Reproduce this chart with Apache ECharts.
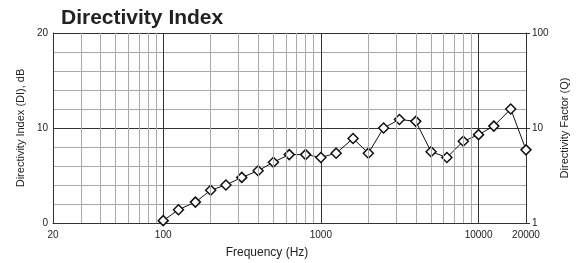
<!DOCTYPE html>
<html>
<head>
<meta charset="utf-8">
<script src="https://cdn.jsdelivr.net/npm/echarts@6/dist/echarts.min.js"></script>
<style>
  html, body { margin: 0; padding: 0; background: #fff; }
  #chart { width: 576px; height: 263px; }
</style>
</head>
<body>
<div id="chart"></div>
<script>
// 1/3 octave bands, Hz
var freqs = [100, 125, 160, 200, 250, 315, 400, 500, 630, 800, 1000, 1250,
  1600, 2000, 2500, 3150, 4000, 5000, 6300, 8000, 10000, 12500, 16000, 20000];
// directivity index, dB
var di = [0.25, 1.4, 2.2, 3.45, 4.0, 4.8, 5.5, 6.4, 7.2, 7.2, 6.9, 7.35,
  8.9, 7.35, 10.0, 10.9, 10.7, 7.5, 6.9, 8.6, 9.3, 10.2, 12.0, 7.7];
// light vertical grid lines between the decades
var minorFreqs = [30, 40, 50, 60, 70, 80, 90,
  200, 300, 400, 500, 600, 700, 800, 900,
  2000, 3000, 4000, 5000, 6000, 7000, 8000, 9000];

var font = 'Liberation Sans, Arial, sans-serif';
var chart = echarts.init(document.getElementById('chart'));

var option = {
  animation: false,
  textStyle: { fontFamily: font },
  title: {
    text: 'Directivity Index',
    left: 56,
    top: 3,
    textStyle: { fontSize: 21, fontWeight: 'bold', color: '#222', fontFamily: font }
  },
  grid: { left: 53, right: 50, top: 33, bottom: 40, containLabel: false, outerBoundsMode: 'none' },
  xAxis: {
    type: 'log',
    logBase: 10,
    min: 20,
    max: 20000,
    name: 'Frequency (Hz)',
    nameLocation: 'middle',
    nameGap: 24,
    nameTextStyle: { fontSize: 12, color: '#222', padding: [0, 45, 0, 0] },
    axisLine: { show: true, lineStyle: { color: '#333' } },
    axisTick: { show: false },
    axisLabel: {
      fontSize: 10, color: '#222', margin: 7,
      showMinLabel: true, showMaxLabel: true,
      formatter: function (v) { return String(Math.round(v)); }
    },
    splitLine: { show: true, lineStyle: { color: '#333', width: 1 } }
  },
  yAxis: [{
    type: 'value',
    min: 0,
    max: 20,
    interval: 10,
    name: 'Directivity Index (DI), dB',
    nameLocation: 'middle',
    nameGap: 26,
    nameRotate: 90,
    nameTextStyle: { fontSize: 11, color: '#222' },
    axisLine: { show: true, lineStyle: { color: '#333' } },
    axisTick: { show: false },
    axisLabel: { fontSize: 10, color: '#222', margin: 5 },
    splitLine: { show: true, lineStyle: { color: '#333', width: 1 } },
    minorTick: { show: false, splitNumber: 5 },
    minorSplitLine: { show: true, lineStyle: { color: '#aaaaaa', width: 1 } }
  }, {
    type: 'log',
    logBase: 10,
    min: 1,
    max: 100,
    position: 'right',
    name: 'Directivity Factor (Q)',
    nameLocation: 'middle',
    nameGap: 26,
    nameRotate: 90,
    nameTextStyle: { fontSize: 11, color: '#222' },
    axisLine: { show: true, lineStyle: { color: '#333' } },
    axisTick: { show: true, inside: false, length: 4, lineStyle: { color: '#333' } },
    axisLabel: { fontSize: 10, color: '#222', margin: 6 },
    splitLine: { show: false }
  }],
  series: [{
    type: 'line',
    data: [],
    silent: true,
    z: 1,
    markLine: {
      silent: true,
      symbol: ['none', 'none'],
      label: { show: false },
      lineStyle: { color: '#aaaaaa', width: 1, type: 'solid' },
      data: minorFreqs.map(function (f) { return { xAxis: f }; })
    }
  }, {
    type: 'line',
    z: 3,
    data: freqs.map(function (f, i) { return [f, di[i]]; }),
    symbol: 'diamond',
    symbolSize: 10,
    showAllSymbol: true,
    lineStyle: { color: '#111', width: 1 },
    itemStyle: { color: '#fff', borderColor: '#111', borderWidth: 1.5 }
  }]
};

chart.setOption(option);
</script>
</body>
</html>
